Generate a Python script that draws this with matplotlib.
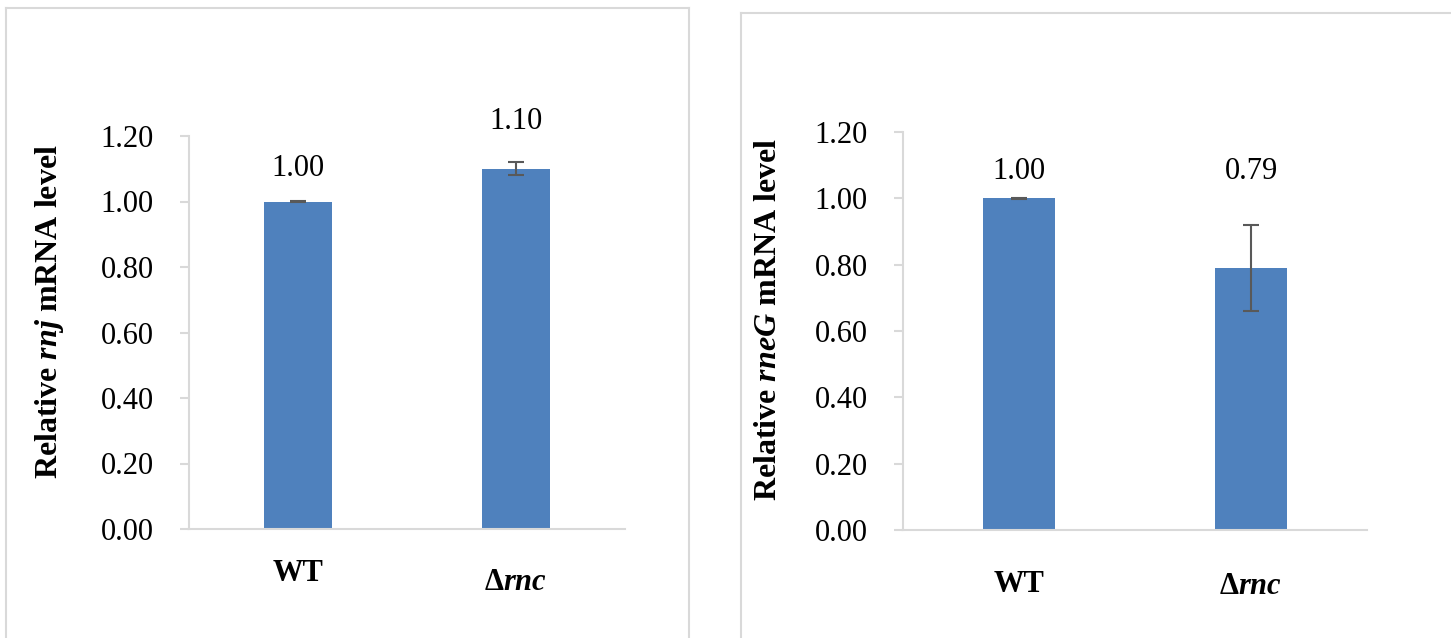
import matplotlib
matplotlib.use("Agg")
import matplotlib.pyplot as plt
from matplotlib.lines import Line2D

# ---- data ----
categories = ["WT", "Δ$\\mathit{rnc}$"]
rnj_values = [1.00, 1.10]
rnj_errors = [0.002, 0.02]
rneG_values = [1.00, 0.79]
rneG_errors = [0.002, 0.13]
rnj_label_texts = ["1.00", "1.10"]
rneG_label_texts = ["1.00", "0.79"]
yticks = [0.0, 0.2, 0.4, 0.6, 0.8, 1.0, 1.2]
ytick_labels = ["0.00", "0.20", "0.40", "0.60", "0.80", "1.00", "1.20"]
ylabel_left = "Relative $\\mathit{rnj}$ mRNA level"
ylabel_right = "Relative $\\mathit{rneG}$ mRNA level"

# label heights (layout, data units)
rnj_label_y = [1.102, 1.243]
rneG_label_y = [1.082, 1.082]

plt.rcParams['font.family'] = ['Liberation Serif', 'DejaVu Serif']
plt.rcParams['mathtext.fontset'] = 'custom'
plt.rcParams['mathtext.it'] = 'Liberation Serif:italic:bold'
plt.rcParams['mathtext.rm'] = 'Liberation Serif:bold'
plt.rcParams['mathtext.bf'] = 'Liberation Serif:bold'

W, H = 1451, 638
fig = plt.figure(figsize=(W / 100, H / 100), dpi=100)
fig.patch.set_facecolor('white')

BAR = '#4f81bd'
GRID = '#d9d9d9'
ERR = '#595959'
FS = 22

def px_rect(x0, x1, ytop, ybot):
    return [x0 / W, 1 - ybot / H, (x1 - x0) / W, (ybot - ytop) / H]

ax1 = fig.add_axes(px_rect(189, 625, 136, 529))
ax2 = fig.add_axes(px_rect(903, 1367, 132, 530))

def style(ax, values, errors, label_texts, label_y, ylabel, yl_x, yl_y, xl_offsets):
    x = list(range(len(categories)))
    ax.bar(x, values, width=0.31, color=BAR, zorder=2)
    ax.errorbar(x, values, yerr=errors, fmt='none', ecolor=ERR,
                elinewidth=1.5, capsize=6, capthick=1.5, zorder=3)
    for xi, t, ly in zip(x, label_texts, label_y):
        ax.text(xi, ly, t, ha='center', va='center', fontsize=FS, clip_on=False)
    ax.set_xlim(-0.5, 1.5)
    ax.set_ylim(0, 1.2)
    ax.set_yticks(yticks)
    ax.set_yticklabels(ytick_labels, fontsize=FS)
    ax.tick_params(axis='y', length=6.5, width=1.5, color=GRID, pad=19)
    ax.set_xticks([])
    for s in ['top', 'right']:
        ax.spines[s].set_visible(False)
    for s in ['left', 'bottom']:
        ax.spines[s].set_color(GRID)
        ax.spines[s].set_linewidth(1.5)
    ax.set_ylabel(ylabel, fontsize=23, fontweight='bold',
                  rotation_mode='default', va='center', ha='center')
    ax.yaxis.set_label_coords(yl_x, yl_y)
    for xi, cat, off in zip(x, categories, xl_offsets):
        ax.text(xi, off, cat, transform=ax.get_xaxis_transform(),
                ha='center', va='center', fontsize=FS, fontweight='bold')

style(ax1, rnj_values, rnj_errors, rnj_label_texts, rnj_label_y,
      ylabel_left, -0.320, 0.552, [-0.112, -0.135])
style(ax2, rneG_values, rneG_errors, rneG_label_texts, rneG_label_y,
      ylabel_right, -0.289, 0.530, [-0.137, -0.142])

# chart-area borders
def fline(xs, ys):
    fig.add_artist(Line2D([v / W for v in xs], [1 - v / H for v in ys],
                          color=GRID, linewidth=1.5))

fline([6, 6], [H + 5, 8])
fline([6, 689], [8, 8])
fline([689, 689], [8, H + 5])
fline([741, 741], [H + 5, 13])
fline([741, W + 5], [13, 13])

fig.savefig('out.png', dpi=100, facecolor='white')
